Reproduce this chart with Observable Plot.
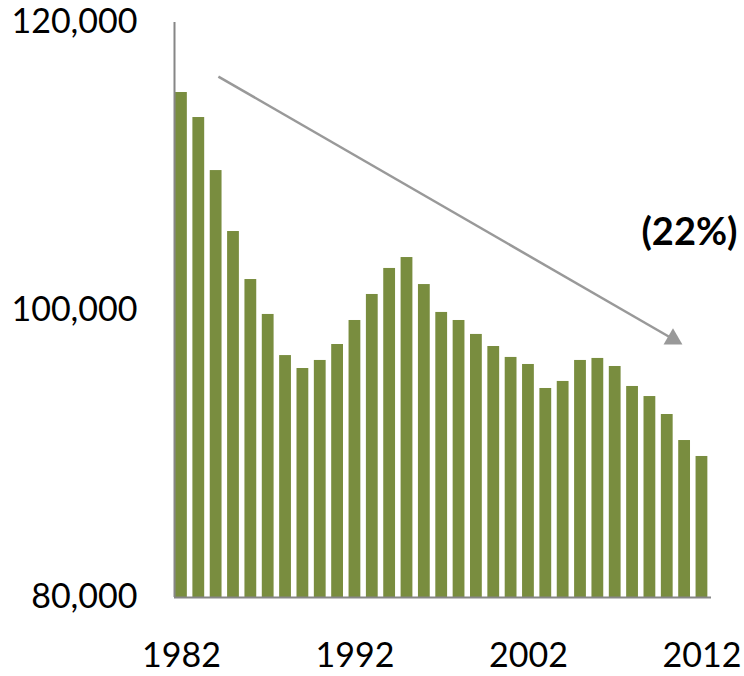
<!DOCTYPE html>
<html><head><meta charset="utf-8">
<script src="https://cdn.jsdelivr.net/npm/d3@7"></script>
<script src="https://cdn.jsdelivr.net/npm/@observablehq/plot@0.6"></script>
<style>body{margin:0;background:#fff}</style>
</head><body><div id="chart"></div>
<script>
const years = [1982,1983,1984,1985,1986,1987,1988,1989,1990,1991,
               1992,1993,1994,1995,1996,1997,1998,1999,2000,2001,
               2002,2003,2004,2005,2006,2007,2008,2009,2010,2011,2012];
const values = [115130,113390,109700,105460,102120,99690,96830,95930,96490,97600,
                99270,101080,102890,103650,101770,99830,99270,98300,97460,96700,
                96210,94540,95030,96490,96630,96070,94680,93980,92730,90920,89810];
const xTicks = [1982, 1992, 2002, 2012];
const yTicks = [80000, 100000, 120000];
const trendArrow = [{x1: 1984.13, y1: 116240, x2: 2010.33, y2: 97980}];
const annotation = [{x: 2014.05, y: 105390, text: "(22%)"}];

const data = years.map((year, i) => ({year, value: values[i]}));
const xMin = 1981.6, xMax = 2012.55;

const chart = Plot.plot({
  width: 744, height: 676,
  marginLeft: 174, marginRight: 33, marginTop: 22, marginBottom: 79,
  style: {fontFamily: "Lato, sans-serif", fontSize: "34px", color: "#000", background: "#fff", overflow: "visible"},
  x: {domain: [xMin, xMax]},
  y: {domain: [80000, 120000]},
  marks: [
    Plot.rectY(data, {x1: d => d.year - 0.34, x2: d => d.year + 0.34, y1: 80000, y2: "value", fill: "#798D3F"}),
    Plot.ruleX([xMin], {stroke: "#868686", strokeWidth: 2}),
    Plot.ruleY([80000], {stroke: "#868686", strokeWidth: 2}),
    Plot.axisY({ticks: yTicks, tickSize: 0, tickPadding: 37, tickFormat: d3.format(","), fontSize: 34, label: null, fill: "#000"}),
    Plot.axisX({ticks: xTicks, tickSize: 0, tickPadding: 45, tickFormat: d => String(d), fontSize: 34, label: null, fill: "#000"}),
    Plot.link(trendArrow, {x1: "x1", y1: "y1", x2: "x2", y2: "y2", stroke: "#999", strokeWidth: 2.5}),
    Plot.dot(trendArrow, {x: "x2", y: "y2", symbol: "triangle", r: 7, fill: "#999", rotate: 120}),
    Plot.text(annotation, {x: "x", y: "y", text: "text", textAnchor: "end", fontWeight: "bold", fontSize: 38, fill: "#000"})
  ]
});
document.getElementById("chart").appendChild(chart);
</script>
</body></html>
